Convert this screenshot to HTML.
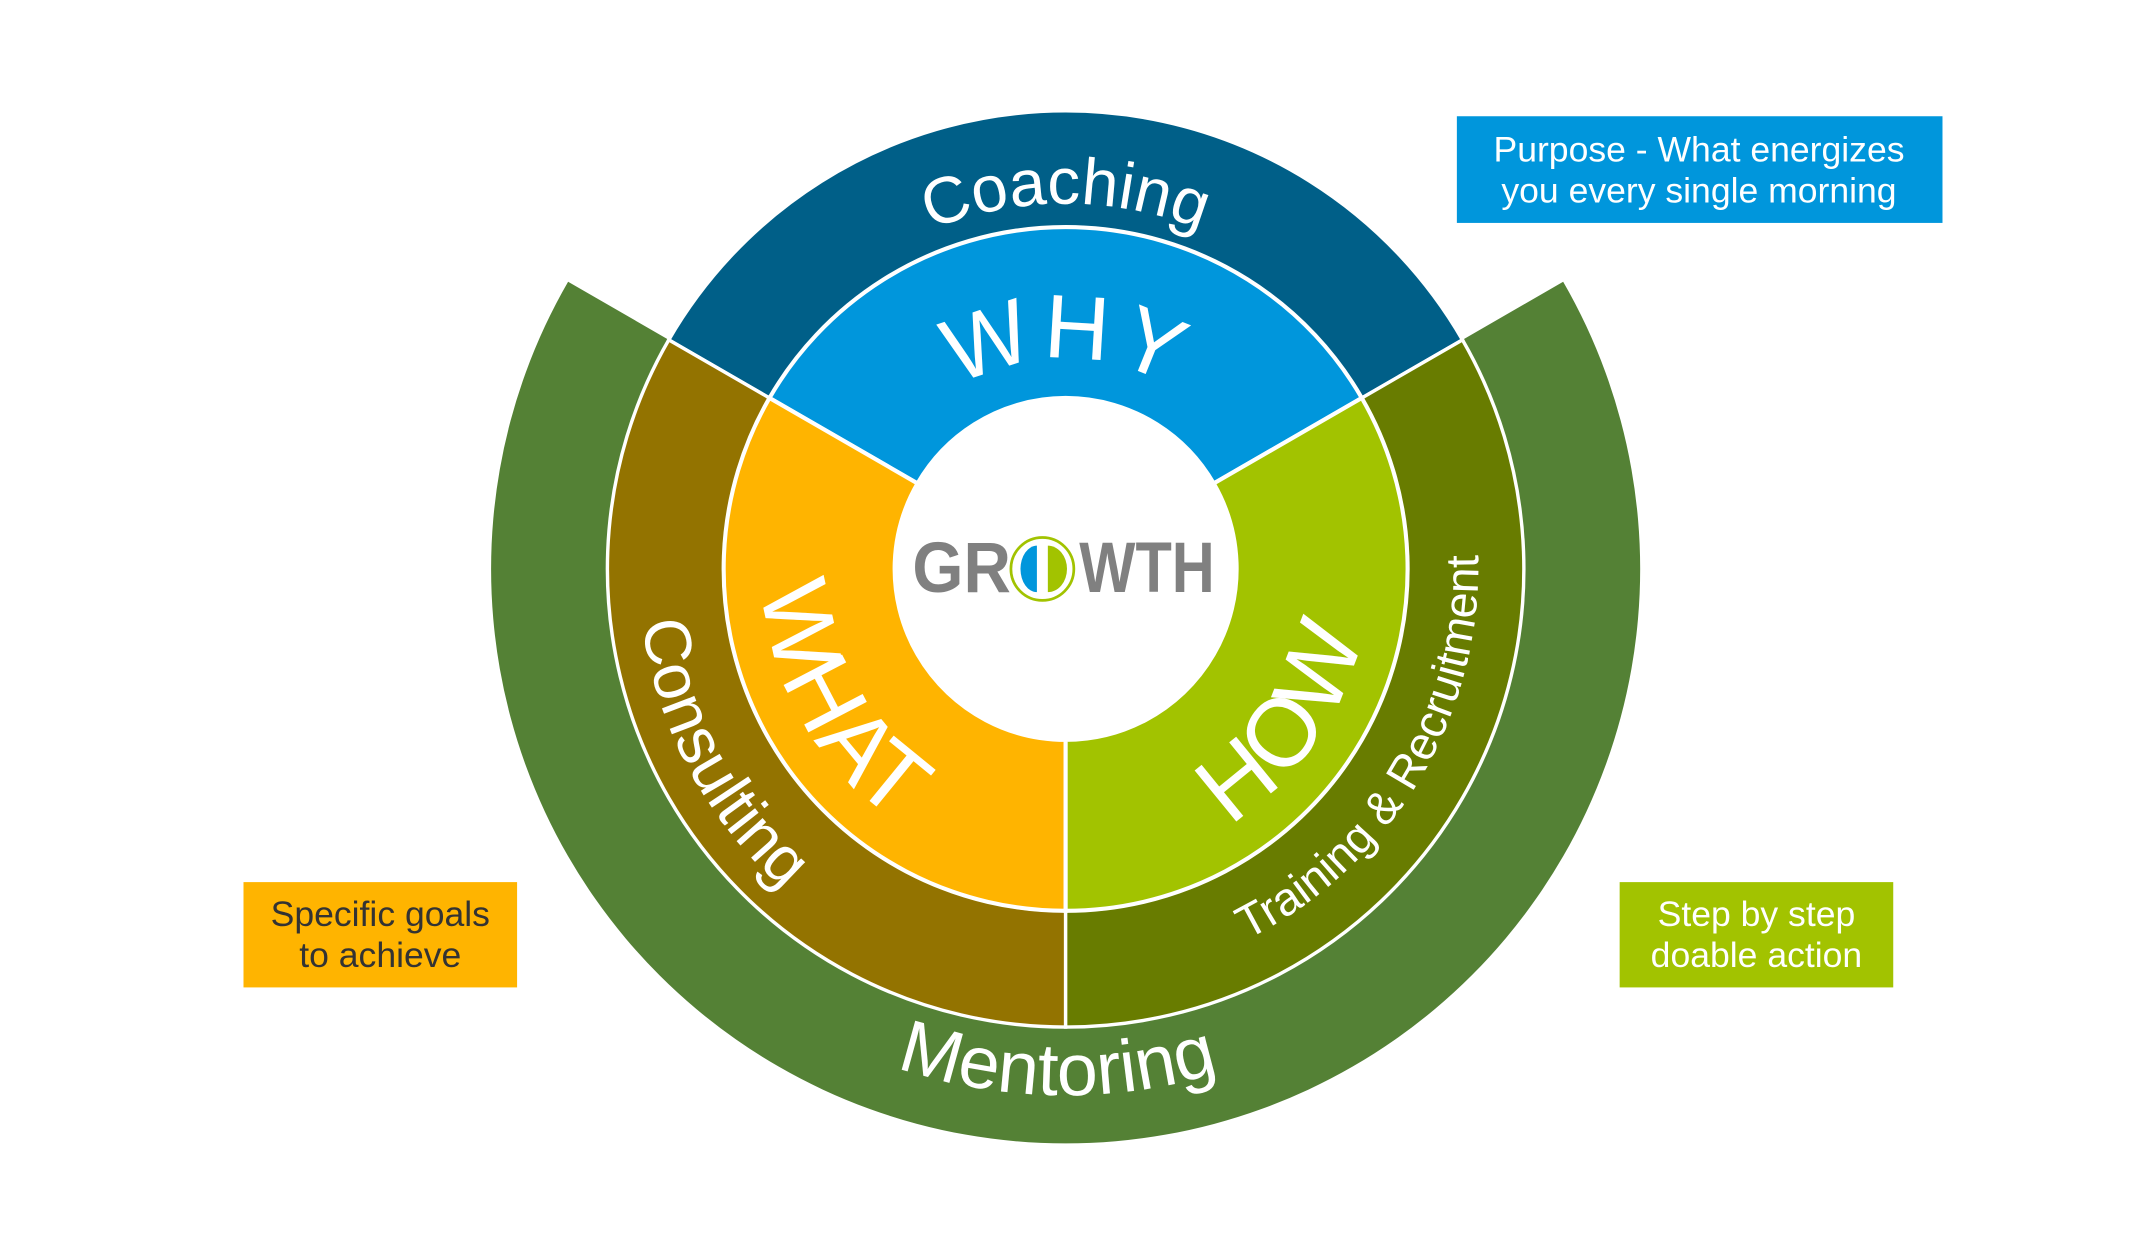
<!DOCTYPE html>
<html><head><meta charset="utf-8"><style>
html,body{margin:0;padding:0;background:#fff;}
svg{display:block;}
text{font-family:"Liberation Sans",sans-serif;}
</style></head><body>
<svg width="2134" height="1250" viewBox="0 0 1560 914" preserveAspectRatio="none" xmlns="http://www.w3.org/2000/svg">
<defs>
<path id="pCoach" d="M512,416 A267,267 0 0 1 1046,416"/>
<path id="pWhy" d="M625,416 A154,154 0 0 1 933,416"/>
<path id="pWhat" d="M668,223.7 A222,222 0 0 0 890,608.3"/>
<path id="pCons" d="M632.5,140.5 A312,312 0 0 0 925.5,691.5"/>
<path id="pHow" d="M651.7,597.9 A222,222 0 0 0 906.3,234.1"/>
<path id="pTrain" d="M621.9,677.4 A305,305 0 0 0 936.1,154.6"/>
<path id="pMent" d="M394,416 A385,385 0 0 0 1164,416"/>
</defs>
<path d="M415.3,206 A420,420 0 1 0 1142.7,206 L1069.1,248.5 A335,335 0 1 1 488.9,248.5 Z" fill="#548135"/>
<path d="M488.9,248.5 A335,335 0 0 1 1069.1,248.5 L995.5,291 A250,250 0 0 0 562.5,291 Z" fill="#005f88" stroke="#fff" stroke-width="2.5"/>
<path d="M488.9,248.5 A335,335 0 0 0 779,751 L779,666 A250,250 0 0 1 562.5,291 Z" fill="#937300" stroke="#fff" stroke-width="2.5"/>
<path d="M779,751 A335,335 0 0 0 1069.1,248.5 L995.5,291 A250,250 0 0 1 779,666 Z" fill="#687c00" stroke="#fff" stroke-width="2.5"/>
<path d="M562.5,291 A250,250 0 0 1 995.5,291 L887.25,353.5 A125,125 0 0 0 670.75,353.5 Z" fill="#0096dc" stroke="#fff" stroke-width="3"/>
<path d="M562.5,291 A250,250 0 0 0 779,666 L779,541 A125,125 0 0 1 670.75,353.5 Z" fill="#ffb400" stroke="#fff" stroke-width="3"/>
<path d="M779,666 A250,250 0 0 0 995.5,291 L887.25,353.5 A125,125 0 0 1 779,541 Z" fill="#a2c300" stroke="#fff" stroke-width="3"/>
<circle cx="779" cy="416" r="124" fill="#fff"/>

<text fill="#fff" font-size="48"><textPath href="#pCoach" startOffset="50%" text-anchor="middle">Coaching</textPath></text>
<text fill="#fff" font-size="66" letter-spacing="4"><textPath href="#pWhy" startOffset="50%" text-anchor="middle">WHY</textPath></text>
<text fill="#fff" font-size="70" letter-spacing="1"><textPath href="#pWhat" startOffset="50%" text-anchor="middle">WHAT</textPath></text>
<text fill="#fff" font-size="48"><textPath href="#pCons" startOffset="50%" text-anchor="middle">Consulting</textPath></text>
<text fill="#fff" font-size="70" letter-spacing="1"><textPath href="#pHow" startOffset="50%" text-anchor="middle">HOW</textPath></text>
<text fill="#fff" font-size="34"><textPath href="#pTrain" startOffset="50%" text-anchor="middle">Training &amp; Recruitment</textPath></text>
<text fill="#fff" font-size="54"><textPath href="#pMent" startOffset="49.5%" text-anchor="middle">Mentoring</textPath></text>

<text x="667" y="433" fill="#808080" font-size="52" font-weight="bold" textLength="72" lengthAdjust="spacingAndGlyphs">GR</text>
<circle cx="762" cy="416" r="23" fill="none" stroke="#a2c300" stroke-width="2"/>
<path d="M758,399 A12,17 0 0 0 758,433 Z" fill="#0096dc"/>
<path d="M766,399 A14,17 0 0 1 766,433 Z" fill="#a2c300"/>
<text x="789" y="433" fill="#808080" font-size="52" font-weight="bold" textLength="99" lengthAdjust="spacingAndGlyphs">WTH</text>

<rect x="1065" y="85" width="355" height="78" fill="#0096dc"/>
<text x="1242" y="118" fill="#fff" font-size="26" text-anchor="middle">Purpose - What energizes</text>
<text x="1242" y="148" fill="#fff" font-size="26" text-anchor="middle">you every single morning</text>
<rect x="178" y="645" width="200" height="77" fill="#ffb400"/>
<text x="278" y="677" fill="#333" font-size="26" text-anchor="middle">Specific goals</text>
<text x="278" y="707" fill="#333" font-size="26" text-anchor="middle">to achieve</text>
<rect x="1184" y="645" width="200" height="77" fill="#a2c300"/>
<text x="1284" y="677" fill="#fff" font-size="26" text-anchor="middle">Step by step</text>
<text x="1284" y="707" fill="#fff" font-size="26" text-anchor="middle">doable action</text>
</svg>
</body></html>
